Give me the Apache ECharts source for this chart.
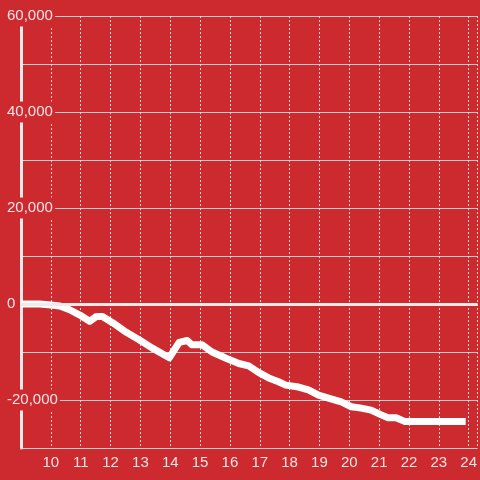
<!DOCTYPE html>
<html>
<head>
<meta charset="utf-8">
<script src="https://cdn.jsdelivr.net/npm/echarts@6/dist/echarts.min.js"></script>
<style>html,body{margin:0;padding:0;background:#cc2a2e;}#c{width:480px;height:480px;}</style>
</head>
<body>
<div id="c"></div>
<script>
var xValues = [9.0, 9.63, 10.0, 10.3, 10.63, 10.97, 11.3, 11.53, 11.73, 12.07, 12.53, 12.97, 13.4, 13.97, 14.3, 14.57, 14.73, 15.07, 15.4, 15.87, 16.3, 16.63, 16.97, 17.3, 17.63, 17.87, 18.3, 18.63, 18.97, 19.3, 19.73, 20.07, 20.4, 20.73, 21.07, 21.3, 21.57, 21.87, 23.9];
var yValues = [0, 0, -200, -400, -1200, -2300, -3600, -2600, -2600, -3900, -5900, -7500, -9200, -11200, -8000, -7600, -8500, -8500, -10000, -11300, -12400, -12900, -14300, -15400, -16200, -16900, -17300, -17900, -19000, -19600, -20400, -21400, -21700, -22100, -23100, -23700, -23700, -24500, -24500];
var xTicks = [10, 11, 12, 13, 14, 15, 16, 17, 18, 19, 20, 21, 22, 23, 24];
var yLabelValues = [60000, 40000, 20000, 0, -20000];

var data = xValues.map(function (x, i) { return [x, yValues[i]]; });
var red = '#cc2a2e';
var font = 'Liberation Sans, Arial, sans-serif';
var chart = echarts.init(document.getElementById('c'));
chart.setOption({
  backgroundColor: red,
  animation: false,
  grid: { left: 21, right: 0, top: 16, bottom: 32 },
  xAxis: {
    type: 'value', min: 9, max: 24.3, interval: 1,
    axisLine: { show: false },
    axisTick: { show: false },
    splitLine: { show: true, lineStyle: { color: '#e8d6d6', type: [2, 2], width: 1 } },
    axisLabel: {
      color: '#f2e4e4', fontSize: 15, fontFamily: font, margin: 7,
      showMinLabel: false, showMaxLabel: false,
      formatter: function (v) { return xTicks.indexOf(v) >= 0 ? String(v) : ''; }
    }
  },
  yAxis: {
    type: 'value', min: -30000, max: 60000, interval: 10000,
    axisLine: { show: true, lineStyle: { color: '#f2eaea', width: 3 } },
    axisTick: { show: false },
    splitLine: { show: true, lineStyle: { color: '#d9c9c9', width: 1 } },
    axisLabel: {
      color: '#f2e4e4', fontSize: 15, fontFamily: font,
      align: 'left', margin: 16,
      formatter: function (v) {
        if (yLabelValues.indexOf(v) < 0) return '';
        return '{b|' + echarts.format.addCommas(v) + '}';
      },
      rich: { b: { backgroundColor: red, padding: [3, 2, 3, 2], color: '#f2e4e4', fontSize: 15, fontFamily: font } }
    }
  },
  series: [{
    type: 'line',
    data: data,
    showSymbol: false,
    lineStyle: { color: '#ffffff', width: 7, cap: 'butt', join: 'round' },
    z: 3,
    markLine: {
      silent: true, symbol: 'none', label: { show: false },
      lineStyle: { color: '#f2eaea', width: 3, type: 'solid' },
      data: [{ yAxis: 0 }]
    }
  }]
});
</script>
</body>
</html>
